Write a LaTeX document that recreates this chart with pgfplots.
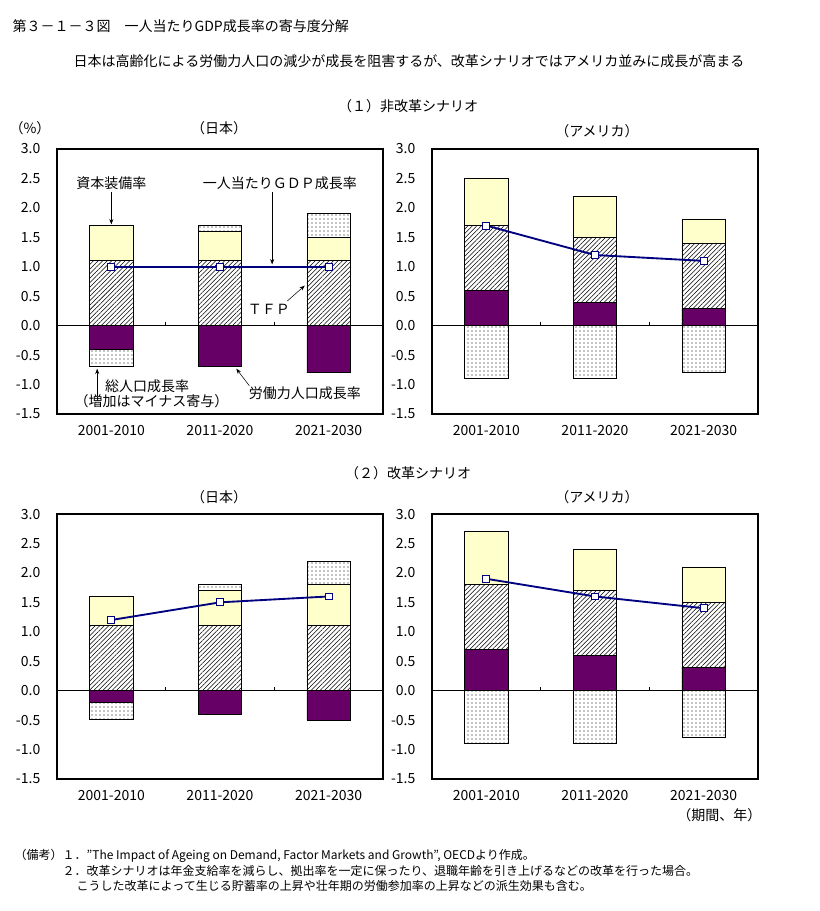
\documentclass[border=0pt]{standalone}
\usepackage{fontspec}
\setmainfont{Noto Sans CJK JP}
\usepackage{pgfplots}
\pgfplotsset{compat=1.18}
\usetikzlibrary{patterns.meta,arrows.meta}
\definecolor{barYellow}{HTML}{FFFFCC}
\definecolor{barPurple}{HTML}{660066}
\definecolor{navy}{HTML}{000080}
\newcommand\fs{\fontsize{10.5pt}{13pt}\selectfont}
\newcommand\fn{\fontsize{9pt}{11pt}\selectfont}
\pgfplotsset{
  panel/.style={
    scale only axis, width=244.5pt, height=198.75pt,
    xmin=-0.5, xmax=2.5, ymin=-1.5, ymax=3,
    ytick={-1.5,-1,-0.5,0,0.5,1,1.5,2,2.5,3},
    xtick={0,1,2}, xticklabels={2001-2010,2011-2020,2021-2030},
    major tick length=0pt,
    axis line style={line width=1.5pt},
    tick label style={font=\fs},
    yticklabel style={/pgf/number format/fixed, /pgf/number format/fixed zerofill, /pgf/number format/precision=1, /pgf/number format/assume math mode=true, xshift=-9pt},
    xticklabel style={yshift=-5pt},
    clip=false,
  },
  segment/.style={ybar, bar width=0.4, bar shift=0pt, draw=black, line width=0.6pt},
  yel/.style={segment, fill=barYellow},
  pur/.style={segment, fill=barPurple},
  hat/.style={segment, preaction={fill=white}, pattern={Lines[angle=45,distance=2.4pt,line width=0.4pt]}},
  dot/.style={segment, preaction={fill=white}, pattern={Dots[distance=3pt,radius=0.4pt]}},
  gdp/.style={sharp plot, color=navy, line width=1.4pt, mark=square*, mark size=2.6pt, mark options={fill=white, draw=navy, line width=0.7pt, solid}},
}
\newcommand\zeroline{%
  \draw[line width=0.6pt] (axis cs:-0.5,0) -- (axis cs:2.5,0);
  \draw[line width=0.6pt] (axis cs:0.5,0) -- ++(0pt,3pt);
  \draw[line width=0.6pt] (axis cs:1.5,0) -- ++(0pt,3pt);}
\begin{document}
\begin{tikzpicture}
\path (0,0) rectangle (615pt,-683.25pt);

% (1) Japan, non-reform
\begin{axis}[panel, at={(42.75pt,-111.75pt)}, anchor=north west]
\addplot[dot] coordinates {(1,1.7) (2,1.9)};
\addplot[yel] coordinates {(0,1.7) (1,1.6) (2,1.5)};
\addplot[hat] coordinates {(0,1.1) (1,1.1) (2,1.1)};
\addplot[dot] coordinates {(0,-0.7)};
\addplot[pur] coordinates {(0,-0.4) (1,-0.7) (2,-0.8)};
\zeroline
\addplot[gdp] coordinates {(0,1.0) (1,1.0) (2,1.0)};
\node[font=\fs] at (axis cs:0.0,2.42) {資本装備率};
\draw[-{Stealth[length=4pt,width=3pt]}] (axis cs:0,2.27) -- (axis cs:0,1.72);
\node[font=\fs] at (axis cs:1.55,2.42) {一人当たりＧＤＰ成長率};
\draw[-{Stealth[length=4pt,width=3pt]}] (axis cs:1.48,2.27) -- (axis cs:1.48,1.04);
\node[font=\fs] at (axis cs:1.45,0.28) {ＴＦＰ};
\draw[-{Stealth[length=4pt,width=3pt]}] (axis cs:1.62,0.42) -- (axis cs:1.78,0.68);
\node[font=\fs] at (axis cs:0.33,-1.02) {総人口成長率};
\node[font=\fs] at (axis cs:0.37,-1.28) {（増加はマイナス寄与）};
\draw[-{Stealth[length=4pt,width=3pt]}] (axis cs:-0.13,-1.2) -- (axis cs:-0.13,-0.73);
\node[font=\fs] at (axis cs:1.78,-1.15) {労働力人口成長率};
\draw[-{Stealth[length=4pt,width=3pt]}] (axis cs:1.27,-1.02) -- (axis cs:1.15,-0.73);
\end{axis}

% (1) USA, non-reform
\begin{axis}[panel, at={(324pt,-111.75pt)}, anchor=north west]
\addplot[yel] coordinates {(0,2.5) (1,2.2) (2,1.8)};
\addplot[hat] coordinates {(0,1.7) (1,1.5) (2,1.4)};
\addplot[pur] coordinates {(0,0.6) (1,0.4) (2,0.3)};
\addplot[dot] coordinates {(0,-0.9) (1,-0.9) (2,-0.8)};
\zeroline
\addplot[gdp] coordinates {(0,1.7) (1,1.2) (2,1.1)};
\end{axis}

% (2) Japan, reform
\begin{axis}[panel, at={(42.75pt,-385.5pt)}, anchor=north west]
\addplot[dot] coordinates {(1,1.8) (2,2.2)};
\addplot[yel] coordinates {(0,1.6) (1,1.7) (2,1.8)};
\addplot[hat] coordinates {(0,1.1) (1,1.1) (2,1.1)};
\addplot[dot] coordinates {(0,-0.48)};
\addplot[pur] coordinates {(0,-0.2) (1,-0.4) (2,-0.5)};
\zeroline
\addplot[gdp] coordinates {(0,1.2) (1,1.5) (2,1.6)};
\end{axis}

% (2) USA, reform
\begin{axis}[panel, at={(324pt,-385.5pt)}, anchor=north west]
\addplot[yel] coordinates {(0,2.7) (1,2.4) (2,2.1)};
\addplot[hat] coordinates {(0,1.8) (1,1.7) (2,1.5)};
\addplot[pur] coordinates {(0,0.7) (1,0.6) (2,0.4)};
\addplot[dot] coordinates {(0,-0.9) (1,-0.9) (2,-0.8)};
\zeroline
\addplot[gdp] coordinates {(0,1.9) (1,1.6) (2,1.4)};
\end{axis}

\begin{scope}[x=0.75pt,y=-0.75pt]
\node[anchor=west,font=\fs] at (8,26) {第３－１－３図　一人当たりGDP成長率の寄与度分解};
\node[font=\fs] at (409,61) {日本は高齢化による労働力人口の減少が成長を阻害するが、改革シナリオではアメリカ並みに成長が高まる};
\node[font=\fs] at (408,106) {（１）非改革シナリオ};
\node[font=\fs] at (30,128) {（\%）};
\node[font=\fs] at (219,128) {（日本）};
\node[font=\fs] at (597,131) {（アメリカ）};
\node[font=\fs] at (408,473) {（２）改革シナリオ};
\node[font=\fs] at (219,497) {（日本）};
\node[font=\fs] at (597,497) {（アメリカ）};
\node[font=\fs,anchor=east] at (766,815) {（期間、年）};
\node[font=\fn,anchor=west] at (10,856) {（備考）１．"The Impact of Ageing on Demand, Factor Markets and Growth", OECDより作成。};
\node[font=\fn,anchor=west] at (58,871) {２．改革シナリオは年金支給率を減らし、拠出率を一定に保ったり、退職年齢を引き上げるなどの改革を行った場合。};
\node[font=\fn,anchor=west] at (72,886) {こうした改革によって生じる貯蓄率の上昇や壮年期の労働参加率の上昇などの派生効果も含む。};
\end{scope}
\end{tikzpicture}
\end{document}
